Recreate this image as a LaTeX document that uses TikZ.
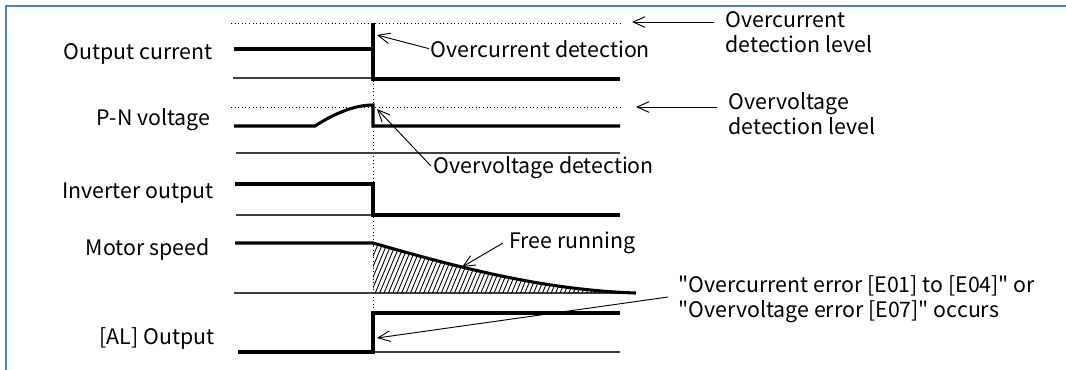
\documentclass[tikz,border=0pt]{standalone}
\usepackage{fontspec}
\setmainfont{Noto Sans CJK JP}
\newfontfamily\jpf{Noto Sans CJK JP}
\usetikzlibrary{arrows.meta}
\definecolor{framec}{HTML}{4F81BD}
\tikzset{
  sig/.style={line width=2.3pt, line join=miter},
  base/.style={line width=0.8pt, draw=black!75},
  level/.style={line width=0.7pt, dotted},
  call/.style={line width=0.7pt, -{Straight Barb[length=9pt,width=8pt]}},
  lbl/.style={font=\jpf\fontsize{16}{18.5}\selectfont, inner sep=1pt},
  hatch/.style={line width=0.65pt}
}
\begin{document}
\begin{tikzpicture}[x=0.75pt,y=-0.75pt]
\useasboundingbox (0,0) rectangle (1066,369);
% frame
\draw[framec, line width=1.6pt] (5.8,375) -- (5.8,5.8) -- (1075,5.8);
% level lines
\draw[level] (231,23) -- (620,23);
\draw[level] (231,107) -- (620,107);
\draw[level] (373,23) -- (373,313);
% baselines
\draw[base] (233,78) -- (620,78);
\draw[base] (236,153) -- (620,153);
\draw[base] (236,215) -- (620,215);
\draw[base] (234,293) -- (636,293);
\draw[base] (373,352) -- (620,352);
% hatch
\begin{scope}
\clip (373,243) .. controls (450,265) and (540,290) .. (636,293) -- (373,293) -- cycle;
\foreach \i in {0,...,66} { \draw[hatch] (330+4.4*\i,296) -- ++(23,-55); }
\end{scope}
% signals
\draw[sig] (234,49) -- (373,49) -- (373,23);
\draw[sig] (373,23) -- (373,79) -- (620,79);
\draw[sig] (234,126) -- (315,126) .. controls (335,113) and (355,105) .. (373,105) -- (373,126) -- (620,126);
\draw[sig] (235,184) -- (373,184) -- (373,215) -- (620,215);
\draw[sig] (235,243) -- (373,243) .. controls (450,265) and (540,290) .. (636,293);
\draw[sig] (238,352) -- (373,352) -- (373,313) -- (620,313);
% labels
\node[lbl, anchor=base east] (l1) at (214,59) {Output current};
\node[lbl, anchor=base east] (l2) at (212,125) {P-N voltage};
\node[lbl, anchor=base east] (l3) at (215,198) {Inverter output};
\node[lbl, anchor=base east] (l4) at (211,255) {Motor speed};
\node[lbl, anchor=base east] (l5) at (216,344) {[AL] Output};
% annotations
\node[lbl, anchor=base west] (ocd) at (429,57) {Overcurrent detection};
\node[lbl, anchor=base west] (ovd) at (432,173) {Overvoltage detection};
\node[lbl, anchor=base west] (fr) at (508,248) {Free running};
\node[lbl, anchor=base west, align=left] (ocl) at (724,52) {Overcurrent\\detection level};
\node[lbl, anchor=base west, align=left] (ovl) at (727,134) {Overvoltage\\detection level};
\node[lbl, anchor=base west, align=left] (err) at (677,317) {"Overcurrent error [E01] to [E04]" or\\"Overvoltage error [E07]" occurs};
% arrow coordinates
\coordinate (ocdT) at (377,35);
\coordinate (ovdT) at (377,109);
\coordinate (frT) at (462,267);
\coordinate (errT) at (377,338);
\coordinate (oclS) at (714,22);
\coordinate (oclT) at (632,22);
\coordinate (ovlS) at (717,107);
\coordinate (ovlT) at (636,107);
\coordinate (errS) at (668,297);
\coordinate (frS) at (503,243);
\coordinate (ovdS) at (431,166);
\draw[call] (ocd.west) -- (ocdT);
\draw[call] (ovdS) -- (ovdT);
\draw[call] (frS) -- (frT);
\draw[call] (errS) -- (errT);
\draw[call] (oclS) -- (oclT);
\draw[call] (ovlS) -- (ovlT);
\end{tikzpicture}
\end{document}
